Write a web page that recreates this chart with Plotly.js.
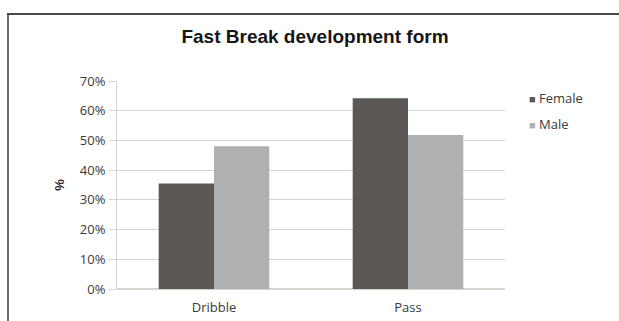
<!DOCTYPE html>
<html>
<head>
<meta charset="utf-8">
<script src="https://cdn.plot.ly/plotly-3.0.1.min.js"></script>
<style>
  html, body { margin: 0; padding: 0; background: #ffffff; overflow: hidden; }
  #chart { width: 619px; height: 321px; }
</style>
</head>
<body>
<div id="chart"></div>
<script>
// Fast break development form, by gender (%)
const categories = ["Dribble", "Pass"];
const seriesNames = ["Female", "Male"];
const femaleValues = [35.5, 64.2];
const maleValues = [48.0, 51.8];
const tickValues = [0, 10, 20, 30, 40, 50, 60, 70];
const tickLabels = ["0%", "10%", "20%", "30%", "40%", "50%", "60%", "70%"];

const colors = { Female: "#5a5755", Male: "#b0b0b0" };
const gridColor = "#dad4d0";
const textColor = "#3a3a3a";

// plot area in pixels
const M = { l: 117, r: 114, t: 81, b: 32 };
const W = 619, H = 321;
const plotW = W - M.l - M.r, plotH = H - M.t - M.b;
const px = x => (x - M.l) / plotW;
const py = y => (H - M.b - y) / plotH;

const traces = [
  { type: "bar", name: seriesNames[0], x: categories, y: femaleValues,
    marker: { color: colors.Female }, hoverinfo: "x+y+name" },
  { type: "bar", name: seriesNames[1], x: categories, y: maleValues,
    marker: { color: colors.Male }, hoverinfo: "x+y+name" }
];

// legend entries drawn as text with a coloured square
const legendAnnotations = seriesNames.map((name, i) => ({
  xref: "paper", yref: "paper",
  x: px(527), y: py(98 + i * 26),
  xanchor: "left", yanchor: "middle",
  showarrow: false,
  text: '<span style="color:' + colors[name] + '; font-size:11px">\u25A0</span> ' + name,
  font: { family: "Open Sans, sans-serif", size: 13, color: textColor }
}));

const layout = {
  width: W, height: H,
  margin: M,
  paper_bgcolor: "#ffffff",
  plot_bgcolor: "#ffffff",
  showlegend: false,
  barmode: "group",
  bargap: 0.43,
  bargroupgap: 0,
  title: {
    text: "<b>Fast Break development form</b>",
    font: { family: "Liberation Sans, Arial, sans-serif", size: 19, color: "#161616" },
    xref: "container", x: 315 / W,
    yref: "container", y: 1 - 36 / H,
    xanchor: "center", yanchor: "middle"
  },
  xaxis: {
    type: "category",
    showgrid: false,
    zeroline: false,
    showline: false,
    ticks: "",
    ticklabelstandoff: 9,
    tickfont: { family: "Open Sans, sans-serif", size: 13, color: textColor }
  },
  yaxis: {
    range: [0, 70],
    tickvals: tickValues,
    ticktext: tickLabels,
    showgrid: true,
    gridcolor: gridColor,
    gridwidth: 1,
    zeroline: true,
    zerolinecolor: gridColor,
    zerolinewidth: 1.2,
    showline: true,
    linecolor: gridColor,
    linewidth: 1,
    ticks: "outside",
    ticklen: 7,
    tickcolor: gridColor,
    ticklabelstandoff: 1,
    tickfont: { family: "Open Sans, sans-serif", size: 13, color: textColor },
    title: {
      text: "<b>%</b>",
      standoff: 12,
      font: { family: "Liberation Sans, Arial, sans-serif", size: 13, color: "#222222" }
    }
  },
  annotations: legendAnnotations,
  shapes: [
    // frame around the figure (top and left edges)
    { type: "line", xref: "paper", yref: "paper",
      x0: px(7), x1: px(620), y0: py(14), y1: py(14),
      line: { color: "#4a4a4a", width: 2 } },
    { type: "line", xref: "paper", yref: "paper",
      x0: px(8), x1: px(8), y0: py(14), y1: py(322),
      line: { color: "#3a3a3a", width: 1.5 } }
  ]
};

Plotly.newPlot("chart", traces, layout, { displayModeBar: false, staticPlot: true });
</script>
</body>
</html>
